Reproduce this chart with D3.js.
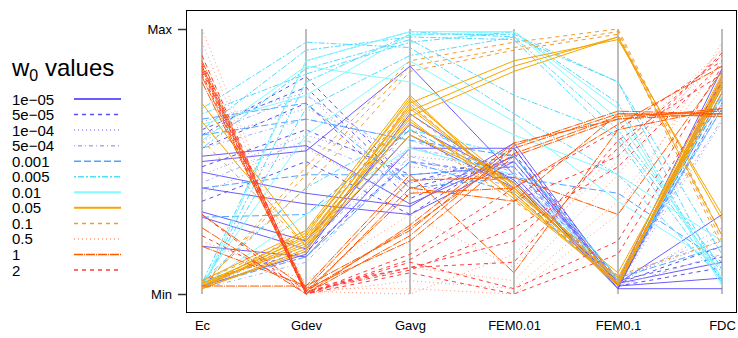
<!DOCTYPE html>
<html>
<head>
<meta charset="utf-8">
<script src="https://cdn.jsdelivr.net/npm/d3@7"></script>
<style>
  body { margin: 0; background: #fff; }
  svg { display: block; font-family: "Liberation Sans", Arial, sans-serif; }
</style>
</head>
<body>
<svg id="chart" width="738" height="338"></svg>
<script>
// axes of the parallel plot
const dims = ["Ec", "Gdev", "Gavg", "FEM0.01", "FEM0.1", "FDC"];
const yTicks = ["Min", "Max"];

// legend groups
const groups = ["1e\u221205", "5e\u221205", "1e\u221204", "5e\u221204", "0.001", "0.005", "0.01", "0.05", "0.1", "0.5", "1", "2"];
const colors = ["#6a5cff", "#5a4ff0", "#9d8ef0", "#9fb0ff", "#4fa6ff", "#4fdcff", "#80fbff", "#f5a600", "#f29a2a", "#ff9a7a", "#ff5a00", "#ff3c3c"];
const dashes = ["none", "4,4", "1,3", "1,3,4,3", "7,3", "2,2,6,2", "none", "none", "4,4", "1,3", "9,1,1,1", "4,4"];

// scaled values (0 = Min, 1 = Max) per group, one row per line
const g1e05 = [
  [0.52, 0.56, 0.34, 0.52, 0.03, 0.82],
  [0.50, 0.54, 0.86, 0.45, 0.02, 0.80],
  [0.46, 0.38, 0.33, 0.57, 0.04, 0.30],
  [0.31, 0.20, 0.64, 0.43, 0.03, 0.06],
  [0.29, 0.17, 0.60, 0.40, 0.05, 0.85],
  [0.18, 0.14, 0.55, 0.55, 0.03, 0.76],
  [0.40, 0.34, 0.30, 0.50, 0.04, 0.12],
  [0.03, 0.15, 0.68, 0.42, 0.02, 0.02]
];
const g5e05 = [
  [0.62, 0.78, 0.40, 0.50, 0.03, 0.72],
  [0.55, 0.72, 0.36, 0.52, 0.04, 0.18],
  [0.48, 0.62, 0.45, 0.48, 0.02, 0.78],
  [0.35, 0.50, 0.30, 0.55, 0.05, 0.14],
  [0.05, 0.16, 0.50, 0.45, 0.03, 0.75],
  [0.60, 0.82, 0.42, 0.53, 0.03, 0.10]
];
const g1e04 = [
  [0.58, 0.70, 0.52, 0.48, 0.04, 0.25],
  [0.45, 0.60, 0.48, 0.45, 0.03, 0.70],
  [0.65, 0.76, 0.38, 0.50, 0.06, 0.20],
  [0.04, 0.14, 0.56, 0.42, 0.05, 0.78],
  [0.38, 0.55, 0.34, 0.52, 0.03, 0.65]
];
const g5e04 = [
  [0.55, 0.66, 0.58, 0.46, 0.05, 0.66],
  [0.02, 0.12, 0.52, 0.40, 0.04, 0.72],
  [0.42, 0.58, 0.42, 0.50, 0.06, 0.22],
  [0.60, 0.75, 0.50, 0.44, 0.04, 0.80],
  [0.03, 0.18, 0.55, 0.48, 0.03, 0.15]
];
const g001 = [
  [0.29, 0.30, 0.62, 0.42, 0.05, 0.70],
  [0.60, 0.66, 0.58, 0.52, 0.06, 0.18],
  [0.03, 0.14, 0.50, 0.38, 0.04, 0.78],
  [0.66, 0.72, 0.40, 0.44, 0.38, 0.12],
  [0.40, 0.45, 0.45, 0.48, 0.05, 0.74]
];
const g005 = [
  [0.02, 0.80, 0.98, 0.98, 0.80, 0.05],
  [0.55, 0.85, 0.96, 0.75, 0.60, 0.08],
  [0.70, 0.95, 0.93, 0.68, 0.45, 0.06],
  [0.03, 0.70, 0.90, 0.97, 0.80, 0.15],
  [0.62, 0.92, 0.97, 0.96, 0.58, 0.05],
  [0.05, 0.40, 0.62, 0.52, 0.06, 0.70],
  [0.04, 0.88, 0.99, 0.97, 0.62, 0.10],
  [0.68, 0.83, 0.95, 0.99, 0.72, 0.04]
];
const g01 = [
  [0.02, 0.88, 0.99, 0.99, 0.70, 0.03],
  [0.04, 0.60, 0.88, 0.65, 0.35, 0.10],
  [0.64, 0.75, 0.98, 0.99, 0.66, 0.06],
  [0.03, 0.30, 0.55, 0.45, 0.05, 0.75],
  [0.58, 0.86, 0.80, 0.60, 0.45, 0.20]
];
const g05 = [
  [0.02, 0.22, 0.74, 0.38, 0.03, 0.80],
  [0.03, 0.20, 0.71, 0.40, 0.04, 0.82],
  [0.04, 0.18, 0.69, 0.86, 0.97, 0.28],
  [0.02, 0.16, 0.72, 0.88, 0.96, 0.30],
  [0.03, 0.19, 0.67, 0.84, 0.97, 0.22],
  [0.72, 0.20, 0.66, 0.36, 0.04, 0.78],
  [0.04, 0.21, 0.70, 0.40, 0.08, 0.79],
  [0.65, 0.18, 0.60, 0.42, 0.05, 0.76],
  [0.03, 0.23, 0.73, 0.41, 0.03, 0.81],
  [0.05, 0.24, 0.75, 0.37, 0.04, 0.79],
  [0.02, 0.17, 0.65, 0.39, 0.06, 0.83]
];
const g1 = [
  [0.03, 0.20, 0.72, 0.38, 0.05, 0.80],
  [0.02, 0.24, 0.68, 0.40, 0.04, 0.81],
  [0.58, 0.18, 0.64, 0.42, 0.06, 0.76],
  [0.05, 0.22, 0.62, 0.35, 0.07, 0.20],
  [0.03, 0.45, 0.86, 0.93, 0.99, 0.20],
  [0.02, 0.48, 0.88, 0.95, 1.00, 0.22],
  [0.04, 0.40, 0.84, 0.92, 0.98, 0.18]
];
const g5 = [
  [1.00, 0.02, 0.02, 0.00, 0.30, 0.95],
  [0.90, 0.00, 0.10, 0.05, 0.45, 0.93],
  [0.95, 0.01, 0.00, 0.15, 0.50, 0.90],
  [0.85, 0.00, 0.05, 0.02, 0.35, 0.88],
  [0.20, 0.05, 0.30, 0.10, 0.55, 0.92]
];
const g10 = [
  [0.85, 0.00, 0.22, 0.55, 0.68, 0.68],
  [0.80, 0.01, 0.25, 0.53, 0.67, 0.69],
  [0.30, 0.02, 0.20, 0.52, 0.66, 0.68],
  [0.25, 0.00, 0.40, 0.35, 0.68, 0.67],
  [0.18, 0.03, 0.45, 0.08, 0.62, 0.70],
  [0.88, 0.01, 0.38, 0.40, 0.64, 0.86],
  [0.03, 0.03, 0.24, 0.56, 0.69, 0.68],
  [0.82, 0.00, 0.26, 0.57, 0.66, 0.70],
  [0.86, 0.02, 0.43, 0.44, 0.30, 0.84]
];
const g20 = [
  [0.90, 0.00, 0.12, 0.02, 0.20, 0.86],
  [0.84, 0.01, 0.10, 0.12, 0.58, 0.83],
  [0.86, 0.00, 0.15, 0.40, 0.62, 0.88],
  [0.30, 0.00, 0.08, 0.00, 0.15, 0.80],
  [0.22, 0.02, 0.10, 0.20, 0.55, 0.90],
  [0.83, 0.00, 0.13, 0.35, 0.52, 0.91],
  [0.87, 0.01, 0.09, 0.25, 0.48, 0.87]
];
const series = [g1e05, g5e05, g1e04, g5e04, g001, g005, g01, g05, g1, g5, g10, g20];

const svg = d3.select("#chart");

const box = { left: 186, top: 10, right: 736.5, bottom: 312 };

const x = d3.scalePoint().domain(dims).range([202, 722]);
const y = d3.scaleLinear().domain([0, 1]).range([294, 29]);

// plot frame
svg.append("rect")
  .attr("x", box.left + 0.5).attr("y", box.top + 0.5)
  .attr("width", box.right - box.left - 0.5).attr("height", box.bottom - box.top)
  .attr("fill", "none").attr("stroke", "#000").attr("stroke-width", 1);

// grey vertical axes
svg.append("g")
  .selectAll("line")
  .data(dims)
  .join("line")
    .attr("x1", d => x(d)).attr("x2", d => x(d))
    .attr("y1", y(0)).attr("y2", y(1))
    .attr("stroke", "#bdbdbd").attr("stroke-width", 2);

// lines
const line = d3.line().x((d, i) => x(dims[i])).y(d => y(d));
series.forEach((rows, gi) => {
  svg.append("g")
    .attr("fill", "none")
    .attr("stroke", colors[gi])
    .attr("stroke-width", 1)
    .attr("stroke-dasharray", dashes[gi])
    .selectAll("path")
    .data(rows)
    .join("path")
      .attr("d", d => line(d));
});

// y axis (Min / Max)
const yAxis = svg.append("g")
  .attr("transform", `translate(${box.left},0)`)
  .call(d3.axisLeft(y).tickValues([0, 1]).tickFormat((d, i) => yTicks[i]).tickSize(8).tickPadding(6))
  .call(g => g.select(".domain").remove());
yAxis.selectAll("line").attr("stroke", "#333").attr("stroke-width", 1.5);
yAxis.selectAll("text").attr("font-size", 13).attr("fill", "#000")
  .attr("font-family", "Liberation Sans, Arial, sans-serif");

// x axis labels
const xAxis = svg.append("g")
  .attr("transform", `translate(0,${box.bottom})`)
  .call(d3.axisBottom(x).tickSize(0).tickPadding(9))
  .call(g => g.select(".domain").remove());
xAxis.selectAll("text").attr("font-size", 13).attr("fill", "#000")
  .attr("font-family", "Liberation Sans, Arial, sans-serif");

// legend
const leg = svg.append("g");
const title = leg.append("text").attr("x", 12).attr("y", 76).attr("font-size", 24).attr("fill", "#000");
title.append("tspan").text("w");
title.append("tspan").attr("font-size", 16).attr("dy", 5).text("0");
title.append("tspan").attr("dy", -5).text(" values");

const legY = i => 99 + i * 15.55;
leg.selectAll("text.lab")
  .data(groups)
  .join("text")
    .attr("class", "lab")
    .attr("x", 12).attr("y", (d, i) => legY(i) + 5.5)
    .attr("font-size", 15).attr("fill", "#000")
    .text(d => d);
leg.selectAll("line")
  .data(groups)
  .join("line")
    .attr("x1", 74).attr("x2", 121)
    .attr("y1", (d, i) => legY(i)).attr("y2", (d, i) => legY(i))
    .attr("stroke", (d, i) => colors[i])
    .attr("stroke-width", (d, i) => dashes[i] === "none" ? 2 : 1.5)
    .attr("stroke-dasharray", (d, i) => dashes[i]);
</script>
</body>
</html>
